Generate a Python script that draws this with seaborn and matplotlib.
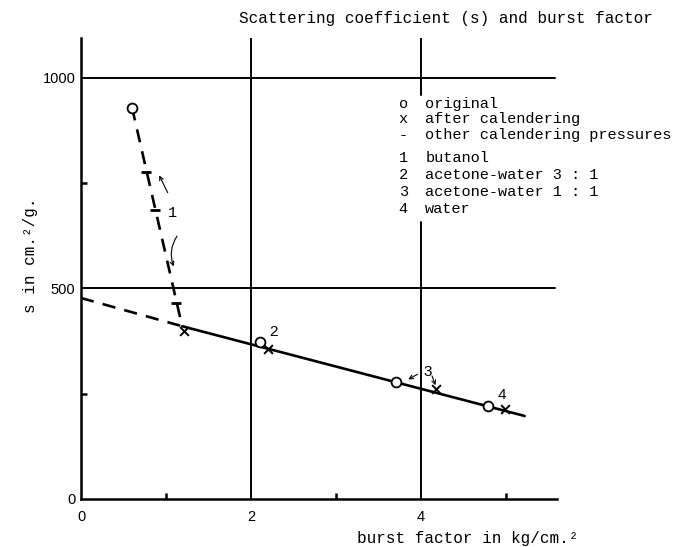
import matplotlib
matplotlib.use("Agg")
import matplotlib.pyplot as plt
import seaborn as sns
import pandas as pd

# ---------------- data ----------------
orig_x = [0.60, 2.11, 3.71, 4.79]          # o  original
orig_s = [929, 373, 278, 221]
cal_x = [1.21, 2.20, 4.18, 4.99]           # x  after calendering
cal_s = [398, 355, 261, 213]
other_x = [0.76, 0.87, 1.12]               # -  other calendering pressures (butanol)
other_s = [776, 686, 466]
butanol_x = [0.60, 1.19]                   # dashed butanol path
butanol_s = [929, 410]
extrap_x = [0.0, 1.19]                     # dashed extrapolation to x = 0
extrap_s = [477, 410]
fit_x = [1.19, 5.22]                       # solid line through calendered sheets
fit_s = [410, 197]
solvent_labels = ["1", "2", "3", "4"]
label_x = [1.08, 2.27, 4.08, 4.95]
label_s = [678, 397, 302, 247]
x_ticks = [0, 2, 4]
x_minor = [1, 3, 5]
y_ticks = [0, 500, 1000]
y_minor = [250, 750]
legend_symbols = ["o", "x", "-", "1", "2", "3", "4"]
legend_texts = ["original", "after calendering", "other calendering pressures",
                "butanol", "acetone-water 3 : 1", "acetone-water 1 : 1", "water"]
title = "Scattering coefficient (s) and burst factor"
xlabel = "burst factor in kg/cm.\u00b2"
ylabel = "s in cm.\u00b2/g."

# ---------------- style ----------------
sns.set_theme(style="white")
plt.rcParams["font.family"] = ["Liberation Mono", "DejaVu Sans Mono"]
MONO = ["Liberation Mono", "DejaVu Sans Mono"]
SANS = ["Liberation Sans", "DejaVu Sans"]
K = "black"

W, H = 677, 547
fig = plt.figure(figsize=(W / 100, H / 100), dpi=100)
fig.patch.set_facecolor("white")
XMAX, YMAX = 5.6, 1094
ax = fig.add_axes([81 / W, (H - 499) / H, XMAX * 85 / W, (499 - 38) / H])
ax.set_facecolor("white")
ax.set_xlim(0, XMAX)
ax.set_ylim(0, YMAX)

for sp in ["top", "right"]:
    ax.spines[sp].set_visible(False)
for sp in ["left", "bottom"]:
    ax.spines[sp].set_linewidth(1.8)
    ax.spines[sp].set_color(K)

# grid lines (hand-drawn look)
for yv in [500, 1000]:
    ax.axhline(yv, xmin=0, xmax=5.58 / XMAX, color=K, lw=1.4, zorder=1)
ax.axvline(2, ymin=0, ymax=1, color=K, lw=1.4, zorder=1)
ax.axvline(4, ymin=0, ymax=657 / YMAX, color=K, lw=1.4, zorder=1)
ax.axvline(4, ymin=958 / YMAX, ymax=1, color=K, lw=1.4, zorder=1)

# ticks
ax.set_xticks(x_ticks)
ax.set_xticklabels([str(v) for v in x_ticks], family=SANS, fontsize=10.5)
ax.set_yticks(y_ticks)
ax.set_yticklabels([str(v) for v in y_ticks], family=SANS, fontsize=10.5)
ax.set_xticks(x_minor, minor=True)
ax.set_yticks(y_minor, minor=True)
ax.tick_params(which="major", length=0, colors=K)
ax.tick_params(axis="x", which="major", pad=8)
ax.tick_params(axis="y", which="major", pad=4)
ax.tick_params(which="minor", direction="in", length=4, width=1.8, colors=K,
               bottom=True, left=True)

# lines
sns.lineplot(x=butanol_x, y=butanol_s, ax=ax, color=K, lw=1.9,
             linestyle=(0, (5, 3.5)), errorbar=None, sort=False, zorder=3)
sns.lineplot(x=extrap_x, y=extrap_s, ax=ax, color=K, lw=1.9,
             linestyle=(0, (5, 3.5)), errorbar=None, sort=False, zorder=3)
sns.lineplot(x=fit_x, y=fit_s, ax=ax, color=K, lw=1.9,
             errorbar=None, sort=False, zorder=3)

# markers
sns.scatterplot(x=orig_x, y=orig_s, ax=ax, marker="o", s=50,
                facecolor="white", edgecolor=K, linewidth=1.3, zorder=5)
sns.scatterplot(x=cal_x, y=cal_s, ax=ax, marker="x", s=40,
                color=K, linewidth=1.4, zorder=5)
sns.scatterplot(x=other_x, y=other_s, ax=ax, marker="_", s=45,
                color=K, linewidth=2.0, zorder=5)

# solvent labels
for lab, lx, ls in zip(solvent_labels, label_x, label_s):
    fam = MONO if lab == "1" else SANS
    ax.text(lx, ls, lab, family=fam, fontsize=11, ha="center", va="center",
            color=K, zorder=6)

# small arrows
arr = dict(arrowstyle="->", lw=0.8, color=K, shrinkA=0, shrinkB=0,
           mutation_scale=7)
ax.annotate("", xy=(0.92, 768), xytext=(1.02, 727), arrowprops=arr)
ax.annotate("", xy=(1.09, 552), xytext=(1.13, 624),
            arrowprops=dict(arr, connectionstyle="arc3,rad=0.25"))
ax.annotate("", xy=(3.85, 284), xytext=(3.96, 296), arrowprops=arr)
ax.annotate("", xy=(4.17, 270), xytext=(4.13, 292), arrowprops=arr)

# legend written as typed text
leg_rows = [937, 902, 864, 809, 769, 728, 688]
for sym, txt, ry in zip(legend_symbols, legend_texts, leg_rows):
    ax.text(3.79, ry, sym, family=MONO, fontsize=11, ha="center", va="center",
            color=K, clip_on=False)
    ax.text(4.05, ry, txt, family=MONO, fontsize=11, ha="left", va="center",
            color=K, clip_on=False)

# title and axis labels
fig.text(446 / W, 1 - 18 / H, title, family=MONO, fontsize=11.5,
         ha="center", va="center", color=K)
fig.text(357 / W, 1 - 538 / H, xlabel, family=MONO, fontsize=11.5,
         ha="left", va="center", color=K)
fig.text(31 / W, 1 - 255 / H, ylabel, family=MONO, fontsize=11.5,
         ha="center", va="center", rotation=90, color=K)

fig.savefig("out.png", dpi=100, facecolor="white")
